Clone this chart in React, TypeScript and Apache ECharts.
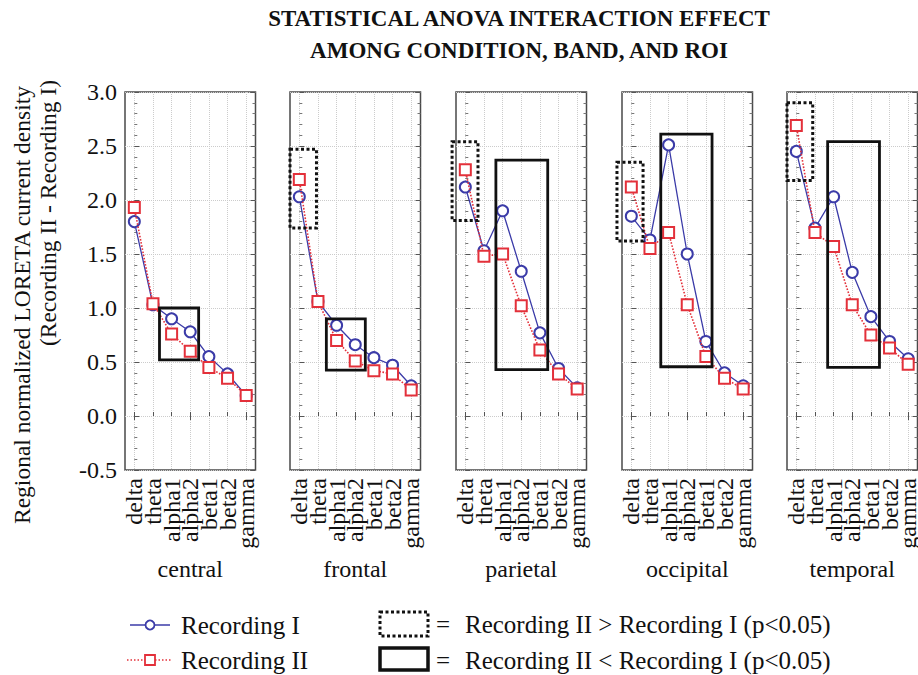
import React, { useEffect, useRef } from "react";
import * as echarts from "echarts";

const FONT = '"Liberation Serif", "Times New Roman", serif';

const categories = ["delta", "theta", "alpha1", "alpha2", "beta1", "beta2", "gamma"];
const rois = ["central", "frontal", "parietal", "occipital", "temporal"];
const yTicks = { min: -0.5, max: 3.0, step: 0.5 };

// Recording I (blue circles)
const recI_central = [1.80, 1.03, 0.90, 0.78, 0.55, 0.39, 0.19];
const recI_frontal = [2.03, 1.06, 0.84, 0.66, 0.54, 0.47, 0.28];
const recI_parietal = [2.12, 1.53, 1.90, 1.34, 0.77, 0.44, 0.26];
const recI_occipital = [1.85, 1.63, 2.51, 1.50, 0.69, 0.40, 0.28];
const recI_temporal = [2.45, 1.74, 2.03, 1.33, 0.92, 0.69, 0.53];

// Recording II (red squares)
const recII_central = [1.93, 1.04, 0.76, 0.60, 0.45, 0.35, 0.19];
const recII_frontal = [2.19, 1.06, 0.70, 0.51, 0.42, 0.39, 0.24];
const recII_parietal = [2.28, 1.48, 1.50, 1.02, 0.61, 0.39, 0.25];
const recII_occipital = [2.12, 1.55, 1.70, 1.03, 0.55, 0.35, 0.25];
const recII_temporal = [2.69, 1.70, 1.57, 1.03, 0.75, 0.63, 0.48];

// Significance boxes: [xFrom, xTo (band index units), yLow, yHigh, dotted(1)=II>I / solid(0)=II<I]
const boxes_central = [[1.35, 3.45, 0.52, 1.0, 0]];
const boxes_frontal = [[-0.5, 0.92, 1.74, 2.47, 1], [1.45, 3.54, 0.425, 0.9, 0]];
const boxes_parietal = [[-0.71, 0.68, 1.81, 2.54, 1], [1.64, 4.42, 0.43, 2.37, 0]];
const boxes_occipital = [[-0.77, 0.63, 1.62, 2.35, 1], [1.58, 4.33, 0.456, 2.61, 0]];
const boxes_temporal = [[-0.5, 0.88, 2.18, 2.9, 1], [1.68, 4.46, 0.45, 2.54, 0]];

const seriesNames = ["Recording I", "Recording II"];
const titleLines = ["STATISTICAL ANOVA INTERACTION EFFECT", "AMONG CONDITION, BAND, AND ROI"];
const yTitleLines = ["Regional normalized LORETA current density", "(Recording II - Recording I)"];
const boxLegend = ["Recording II > Recording I (p<0.05)", "Recording II < Recording I (p<0.05)"];

const recI = [recI_central, recI_frontal, recI_parietal, recI_occipital, recI_temporal];
const recII = [recII_central, recII_frontal, recII_parietal, recII_occipital, recII_temporal];
const boxes = [boxes_central, boxes_frontal, boxes_parietal, boxes_occipital, boxes_temporal];

const BLUE = "#3b3ba8";
const RED = "#e3303a";
const INK = "#111";
const PANEL_LEFT = [125, 290, 456, 622, 787];
const PANEL_W = 130.5;
const PANEL_TOP = 92;
const PANEL_H = 378;

function buildOption() {
  const grid: any[] = [];
  const xAxis: any[] = [];
  const yAxis: any[] = [];
  const series: any[] = [];
  rois.forEach((roi, i) => {
    grid.push({
      left: PANEL_LEFT[i], top: PANEL_TOP, width: PANEL_W, height: PANEL_H,
      show: true, borderColor: "#4a4a4a", borderWidth: 1.5, backgroundColor: "transparent",
      containLabel: false, outerBoundsMode: "none",
    });
    xAxis.push({
      type: "category", gridIndex: i, data: categories, boundaryGap: true, position: "bottom",
      axisLine: { show: false },
      axisTick: { show: true, inside: true, alignWithLabel: true, length: 4, lineStyle: { color: "#555" } },
      axisLabel: { interval: 0, rotate: 90, margin: 8, fontSize: 24, fontFamily: FONT, color: INK },
      splitLine: { show: true, interval: 0, alignWithLabel: true, lineStyle: { color: "#cccccc", type: "dotted", width: 1 } },
      name: roi, nameLocation: "middle", nameGap: 87, nameMoveOverlap: false,
      nameTextStyle: { fontSize: 24, fontFamily: FONT, color: INK },
    });
    xAxis.push({
      type: "category", gridIndex: i, data: categories, boundaryGap: true, position: "top",
      axisLine: { show: false },
      axisTick: { show: true, inside: true, alignWithLabel: true, length: 4, lineStyle: { color: "#555" } },
      axisLabel: { show: false }, splitLine: { show: false },
    });
    xAxis.push({ type: "value", gridIndex: i, min: -0.5, max: 6.5, show: false, splitLine: { show: false } });
    yAxis.push({
      type: "value", gridIndex: i, min: yTicks.min, max: yTicks.max, interval: yTicks.step,
      axisLine: { show: false },
      axisTick: { show: true, inside: true, length: 5, lineStyle: { color: "#555" } },
      minorTick: { show: true, splitNumber: 5, length: 3, lineStyle: { color: "#777" } },
      axisLabel: {
        show: i === 0, margin: 8, fontSize: 24, fontFamily: FONT, color: INK,
        formatter: (v: number) => v.toFixed(1),
      },
      splitLine: { show: true, lineStyle: { color: "#cccccc", type: "dotted", width: 1 } },
    });
    yAxis.push({
      type: "value", gridIndex: i, position: "right", min: yTicks.min, max: yTicks.max, interval: yTicks.step,
      axisLine: { show: false },
      axisTick: { show: true, inside: true, length: 5, lineStyle: { color: "#555" } },
      minorTick: { show: true, splitNumber: 5, length: 3, lineStyle: { color: "#777" } },
      axisLabel: { show: false }, splitLine: { show: false },
    });
    series.push({
      type: "line", name: seriesNames[0], xAxisIndex: 3 * i, yAxisIndex: 2 * i, data: recI[i],
      symbol: "emptyCircle", symbolSize: 11, z: 3,
      lineStyle: { color: BLUE, width: 1.3 },
      itemStyle: { color: BLUE, borderColor: BLUE, borderWidth: 2 },
    });
    series.push({
      type: "line", name: seriesNames[1], xAxisIndex: 3 * i, yAxisIndex: 2 * i, data: recII[i],
      symbol: "emptyRect", symbolSize: 11, z: 4,
      lineStyle: { color: RED, width: 1.6, type: "dotted" },
      itemStyle: { color: RED, borderColor: RED, borderWidth: 2 },
    });
    series.push({
      type: "custom", xAxisIndex: 3 * i + 2, yAxisIndex: 2 * i, coordinateSystem: "cartesian2d",
      data: boxes[i], z: 5, silent: true,
      encode: { x: [0, 1], y: [2, 3] },
      renderItem: (params: any, api: any) => {
        const p1 = api.coord([api.value(0), api.value(3)]);
        const p2 = api.coord([api.value(1), api.value(2)]);
        const dotted = api.value(4) === 1;
        return {
          type: "rect",
          shape: { x: p1[0], y: p1[1], width: p2[0] - p1[0], height: p2[1] - p1[1] },
          style: {
            fill: "none", stroke: INK,
            lineWidth: dotted ? 3 : 2.8,
            lineDash: dotted ? [3, 2.5] : null,
          },
        };
      },
    });
  });

  const txt = (text: string, x: number, y: number, size: number, align: string, weight = "normal", rotation = 0) => ({
    type: "text", x, y, rotation,
    style: {
      text, fontSize: size, fontFamily: FONT, fontWeight: weight, fill: INK,
      align, verticalAlign: "middle", textAlign: align, textVerticalAlign: "middle",
    },
  });

  const graphic: any[] = [
    txt(titleLines[0], 519, 18, 23, "center", "bold"),
    txt(titleLines[1], 519, 50, 23, "center", "bold"),
    txt(yTitleLines[0], 22, 305, 23.5, "center", "normal", Math.PI / 2),
    txt(yTitleLines[1], 48, 213, 23.5, "center", "normal", Math.PI / 2),
    // series legend
    { type: "line", shape: { x1: 130, y1: 625, x2: 170, y2: 625 }, style: { stroke: BLUE, lineWidth: 1.3 } },
    { type: "circle", shape: { cx: 150, cy: 625, r: 4.5 }, style: { fill: "#fff", stroke: BLUE, lineWidth: 1.8 } },
    { type: "line", shape: { x1: 127, y1: 660, x2: 172, y2: 660 }, style: { stroke: RED, lineWidth: 1.4, lineDash: [1.5, 2] } },
    { type: "rect", shape: { x: 145, y: 655, width: 10, height: 10 }, style: { fill: "#fff", stroke: RED, lineWidth: 1.8 } },
    txt(seriesNames[0], 181, 625, 25, "left"),
    txt(seriesNames[1], 181, 660, 25, "left"),
    // box legend
    { type: "rect", shape: { x: 380, y: 612, width: 48, height: 24 }, style: { fill: "#fff", stroke: INK, lineWidth: 3, lineDash: [3, 2.5] } },
    { type: "rect", shape: { x: 380, y: 648, width: 48, height: 22 }, style: { fill: "#fff", stroke: INK, lineWidth: 3.5 } },
    txt("=", 436, 624, 25, "left"),
    txt("=", 436, 660, 25, "left"),
    txt(boxLegend[0], 465, 624, 25, "left"),
    txt(boxLegend[1], 465, 660, 25, "left"),
  ];

  return {
    animation: false,
    backgroundColor: "#ffffff",
    grid, xAxis, yAxis, series, graphic,
  };
}

export default function App() {
  const ref = useRef<HTMLDivElement>(null);
  useEffect(() => {
    if (!ref.current) return;
    const chart = echarts.init(ref.current, undefined, { renderer: "svg" });
    chart.setOption(buildOption() as any);
    return () => chart.dispose();
  }, []);
  return (
    <div
      ref={ref}
      style={{ position: "fixed", left: 0, top: 0, width: 918, height: 675, background: "#fff" }}
    />
  );
}
